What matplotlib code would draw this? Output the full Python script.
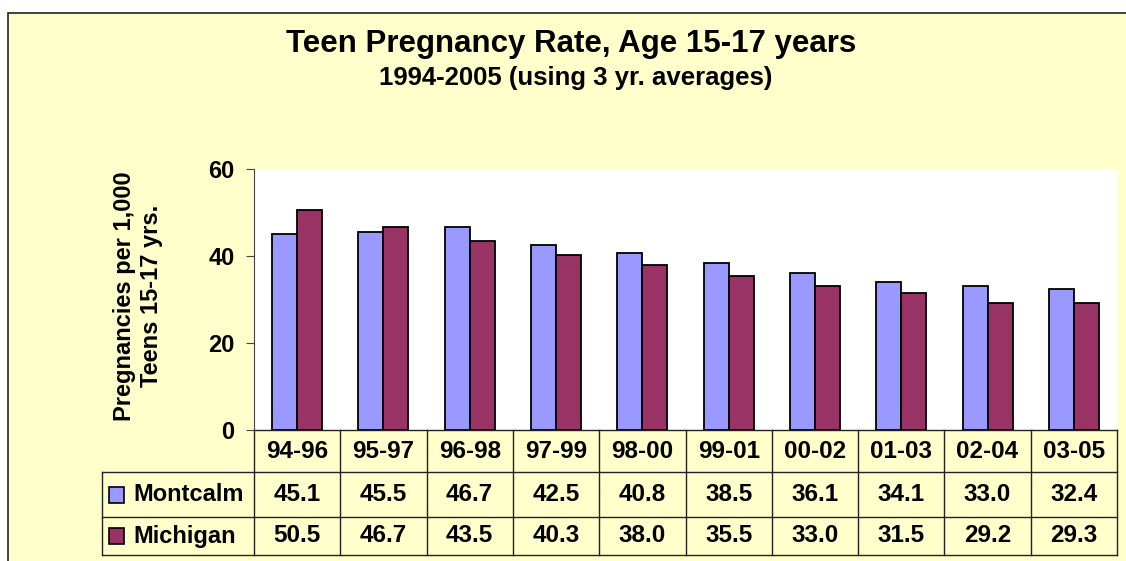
import matplotlib
matplotlib.use("Agg")
import matplotlib.pyplot as plt
from matplotlib.patches import Rectangle
import matplotlib.transforms as mtransforms
import numpy as np

categories = ["94-96", "95-97", "96-98", "97-99", "98-00", "99-01", "00-02", "01-03", "02-04", "03-05"]
montcalm = [45.1, 45.5, 46.7, 42.5, 40.8, 38.5, 36.1, 34.1, 33.0, 32.4]
michigan = [50.5, 46.7, 43.5, 40.3, 38.0, 35.5, 33.0, 31.5, 29.2, 29.3]
series_names = ["Montcalm", "Michigan"]
colors = ["#9999FF", "#993366"]
yticks = [0, 20, 40, 60]

plt.rcParams['font.family'] = ['Liberation Sans', 'DejaVu Sans']
plt.rcParams['font.weight'] = 'bold'

W, H = 1126, 561
fig = plt.figure(figsize=(W / 100, H / 100), dpi=100)
fig.patch.set_facecolor("white")

BG = "#FFFFCC"
# outer frame (extends beyond the image right/bottom)
frame = Rectangle((8 / W, -0.05), 1.2, (H - 13) / H + 0.05, transform=fig.transFigure,
                  facecolor=BG, edgecolor="#222222", linewidth=1.2, zorder=-10)
fig.patches.append(frame)

left, right, top, bottom = 254, 1117, 169, 430
ax = fig.add_axes([left / W, 1 - bottom / H, (right - left) / W, (bottom - top) / H])
ax.set_zorder(5)
ax.set_facecolor("white")

x = np.arange(len(categories))
bw = 0.29
ax.bar(x - bw / 2, montcalm, bw, color=colors[0], edgecolor="black", linewidth=1.3, zorder=3)
ax.bar(x + bw / 2, michigan, bw, color=colors[1], edgecolor="black", linewidth=1.3, zorder=3)

ax.set_xlim(-0.5, len(categories) - 0.5)
ax.set_ylim(0, 60)
ax.set_yticks(yticks)
ax.set_yticklabels([str(v) for v in yticks], fontsize=17, fontweight="bold")
ax.set_xticks([])
for s in ["top", "right"]:
    ax.spines[s].set_visible(False)
ax.spines["bottom"].set_visible(False)
ax.spines["left"].set_color("#444444")
ax.tick_params(axis="y", length=6, color="#444444", pad=8)

ax.set_ylabel("Pregnancies per 1,000\nTeens 15-17 yrs.", fontsize=17, fontweight="bold",
              linespacing=1.2, va="center", ha="center")
ax.yaxis.set_label_coords((138 - left) / (right - left), (bottom - 296) / (bottom - top))

# data table
trans = mtransforms.blended_transform_factory(ax.transData, ax.transAxes)
ph = bottom - top
pxu = (right - left) / len(categories)
y_hdr = -42 / ph
y_r1 = -87 / ph
y_r2 = -125 / ph
xl = (102 - left) / pxu - 0.5
n = len(categories)
lc = "#222222"
lw = 1.0
kw = dict(transform=trans, color=lc, linewidth=lw, clip_on=False)
# horizontal lines
ax.plot([-0.5, n - 0.5], [0, 0], **kw)
ax.plot([xl, n - 0.5], [y_hdr, y_hdr], **kw)
ax.plot([xl, n - 0.5], [y_r1, y_r1], **kw)
ax.plot([xl, n - 0.5], [y_r2, y_r2], **kw)
# vertical lines
for i in range(n + 1):
    ax.plot([i - 0.5, i - 0.5], [0, y_r2], **kw)
ax.plot([xl, xl], [y_hdr, y_r2], **kw)

fs = 17.5
for i, c in enumerate(categories):
    ax.text(i, y_hdr / 2, c, transform=trans, ha="center", va="center", fontsize=fs, fontweight="bold")
    ax.text(i, (y_hdr + y_r1) / 2, f"{montcalm[i]:.1f}", transform=trans, ha="center", va="center",
            fontsize=fs, fontweight="bold")
    ax.text(i, (y_r1 + y_r2) / 2, f"{michigan[i]:.1f}", transform=trans, ha="center", va="center",
            fontsize=fs, fontweight="bold")

kx = (109 - left) / pxu - 0.5
kw_ = 15 / pxu
kh = 16 / ph
tx = (133 - left) / pxu - 0.5
for k, (name, yy) in enumerate(zip(series_names, [(y_hdr + y_r1) / 2, (y_r1 + y_r2) / 2])):
    ax.add_patch(Rectangle((kx, yy - kh / 2), kw_, kh, transform=trans, facecolor=colors[k],
                           edgecolor="black", linewidth=1.2, clip_on=False))
    ax.text(tx, yy, name, transform=trans, ha="left", va="center", fontsize=17, fontweight="bold")

fig.text(571 / W, 1 - 44 / H, "Teen Pregnancy Rate, Age 15-17 years", ha="center", va="center",
         fontsize=22.5, fontweight="bold")
fig.text(576 / W, 1 - 78 / H, "1994-2005 (using 3 yr. averages)", ha="center", va="center",
         fontsize=18.5, fontweight="bold")

fig.savefig("out.png", dpi=100, facecolor=fig.get_facecolor())
